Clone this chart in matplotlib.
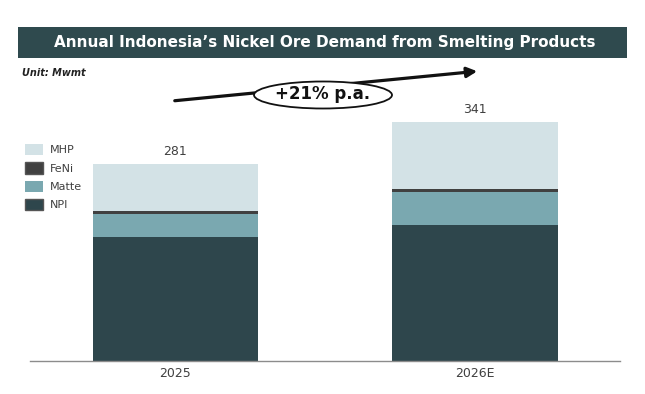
import matplotlib.pyplot as plt
from matplotlib.patches import Patch, Rectangle, Ellipse, FancyArrowPatch

# Data (Mwmt)
years = ['2025', '2026E']
npi = [177, 194]
matte = [33, 47]
feni = [4, 4]
mhp = [67, 96]
totals = [281, 341]

colors = {
    'NPI': '#2e464c',
    'Matte': '#7aa8b0',
    'FeNi': '#404040',
    'MHP': '#d3e2e6',
}

fig = plt.figure(figsize=(6.45, 3.94), dpi=100)
ax = fig.add_axes([30 / 645, 33 / 394, 590 / 645, 261 / 394])

x = list(range(len(years)))
w = 0.553
bottom = [0] * len(years)
for name, vals in [('NPI', npi), ('Matte', matte), ('FeNi', feni), ('MHP', mhp)]:
    ax.bar(x, vals, width=w, bottom=bottom, color=colors[name], label=name,
           edgecolor='none')
    bottom = [b + v for b, v in zip(bottom, vals)]

for xi, t in zip(x, totals):
    ax.text(xi, t + 8, str(t), ha='center', va='bottom', fontsize=9, color='#404040')

ax.set_xlim(-0.485, 1.483)
ax.set_ylim(0, 372)
ax.set_xticks(x)
ax.set_xticklabels(years, fontsize=9, color='#404040')
ax.tick_params(axis='x', length=0, pad=4)
ax.set_yticks([])
for s in ['top', 'right', 'left']:
    ax.spines[s].set_visible(False)
ax.spines['bottom'].set_color('#8c8c8c')
ax.spines['bottom'].set_linewidth(1.0)

# legend (top item = MHP)
handles = [Patch(facecolor=colors[n], edgecolor='#555555' if n in ('FeNi', 'NPI') else 'none',
                 label=n) for n in ['MHP', 'FeNi', 'Matte', 'NPI']]
fig.legend(handles=handles, loc='upper left', bbox_to_anchor=(15 / 645, 1 - 134 / 394),
           frameon=False, fontsize=8, handlelength=1.6, handleheight=1.2,
           labelspacing=0.62, handletextpad=0.6, labelcolor='#404040')

# title banner
fig.patches.append(Rectangle((18 / 645, 1 - 58 / 394), 609 / 645, 31 / 394,
                             transform=fig.transFigure, facecolor='#2f4a4e',
                             edgecolor='none'))
fig.text(325 / 645, 1 - 42.5 / 394,
         "Annual Indonesia\u2019s Nickel Ore Demand from Smelting Products",
         ha='center', va='center', color='white', fontsize=11, fontweight='bold')

fig.text(22 / 645, 1 - 73 / 394, 'Unit: Mwmt', fontsize=7, fontweight='bold',
         style='italic', ha='left', va='center', color='#222222')

# growth arrow
fig.add_artist(FancyArrowPatch(
    (172 / 645, 1 - 101 / 394), (480 / 645, 1 - 71 / 394),
    transform=fig.transFigure, arrowstyle='-|>', mutation_scale=15,
    color='#111111', linewidth=2.3))
fig.add_artist(Ellipse((323 / 645, 1 - 95 / 394), 138 / 645, 27 / 394,
                       transform=fig.transFigure, facecolor='white',
                       edgecolor='#111111', linewidth=1.3))
fig.text(323 / 645, 1 - 94 / 394, '+21% p.a.', ha='center', va='center',
         fontsize=12, fontweight='bold', color='#111111')

fig.savefig('out.png', dpi=100)
